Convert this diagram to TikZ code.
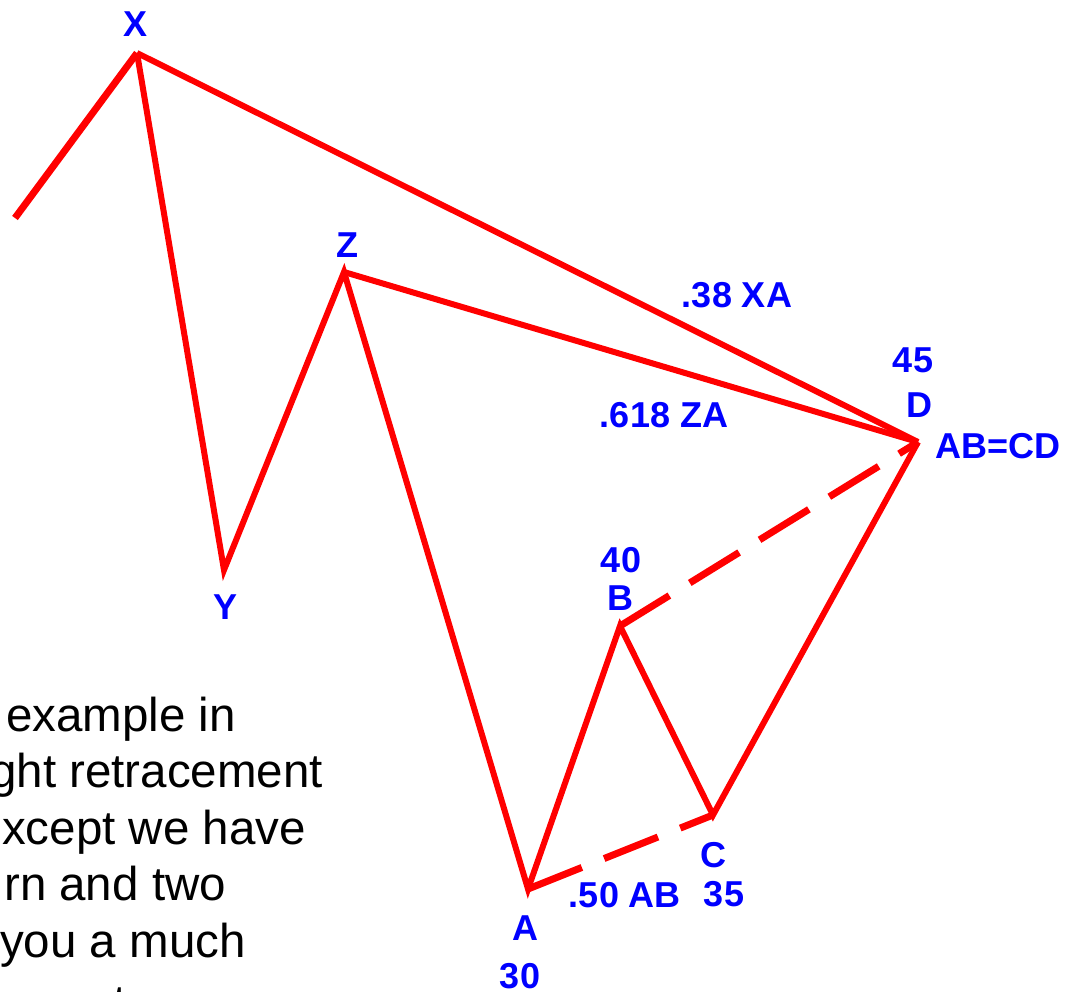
\documentclass[tikz,border=0pt]{standalone}
\usepackage{fontspec}
\setmainfont{Liberation Sans}
\begin{document}
\begin{tikzpicture}[x=1pt,y=-1pt,
  leg/.style={draw=red,line width=6pt},
  thickleg/.style={draw=red,line width=7pt},
  dleg/.style={draw=red,line width=7pt,dash pattern=on 58pt off 24pt},
  lbl/.style={text=blue,font=\fontsize{36}{36}\selectfont\bfseries,inner sep=0pt,anchor=base},
  body/.style={font=\fontsize{47.5}{47.5}\selectfont,inner sep=0pt,anchor=base west}]
\useasboundingbox (0,0) rectangle (1078,991);
\clip (0,0) rectangle (1078,991);
% vertices
\coordinate (S) at (15,218);
\coordinate (X) at (137,53);
\coordinate (Y) at (224,570);
\coordinate (Z) at (344,272);
\coordinate (A) at (528,889);
\coordinate (B) at (620,626);
\coordinate (C) at (713,815);
\coordinate (D) at (918,442);
% legs
\draw[thickleg] (S) -- (X);
\draw[leg] (X) -- (Y) -- (Z) -- (A) -- (B) -- (C) -- (D);
\draw[leg] (X) -- (D);
\draw[leg] (Z) -- (D);
\draw[dleg] (A) -- (C);
\draw[dleg] (B) -- (D);
% labels
\node[lbl] (lX) at (136,36) {X};
\node[lbl] (lY) at (226,619) {Y};
\node[lbl] (lZ) at (347,257) {Z};
\node[lbl] (lXA) at (737,307) {.38 XA};
\node[lbl] (lZA) at (664,427) {.618 ZA};
\node[lbl] (l45) at (913,372) {45};
\node[lbl] (lD) at (919,417) {D};
\node[lbl] (lABCD) at (998,458) {AB=CD};
\node[lbl] (l40) at (621,572) {40};
\node[lbl] (lB) at (620,610) {B};
\node[lbl] (lC) at (713,867) {C};
\node[lbl] (l35) at (724,906) {35};
\node[lbl] (lAB) at (625,907) {.50 AB};
\node[lbl] (lA) at (525,940) {A};
\node[lbl] (l30) at (520,988) {30};
% body text (cut at the left and bottom edges)
\node[body] (t1) at (6,731) {\llap{an }example in};
\node[body] (t2) at (-10,787) {\llap{ri}ght retracement};
\node[body] (t3) at (2,844) {\llap{e}xcept we have};
\node[body] (t4) at (4,900) {rn and two};
\node[body] (t5) at (0,957) {\llap{give }you a much};
\node[body] (t6) at (18,1018) {greater};
\end{tikzpicture}
\end{document}
